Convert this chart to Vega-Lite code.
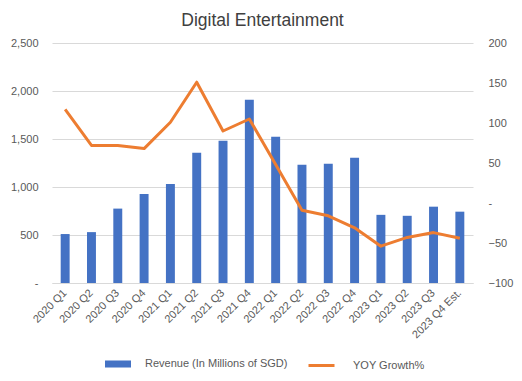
{
  "$schema": "https://vega.github.io/schema/vega-lite/v6.json",
  "autosize": {"type": "none"},
  "width": 421,
  "height": 240,
  "padding": {"left": 52, "top": 43, "right": 49, "bottom": 98},
  "background": "white",
  "title": {"text": "Digital Entertainment", "fontSize": 17.5, "font": "Liberation Sans", "fontWeight": "normal", "color": "#404040", "anchor": "middle", "offset": 8},
  "config": {
    "view": {"stroke": null},
    "font": "Liberation Sans",
    "axis": {"labelFont": "Liberation Sans", "labelFontSize": 11, "labelColor": "#595959", "ticks": false, "domain": false, "title": null}
  },
  "data": {"values": [
    {"q": "2020 Q1", "revenue": 510, "yoy": 117},
    {"q": "2020 Q2", "revenue": 530, "yoy": 72},
    {"q": "2020 Q3", "revenue": 775, "yoy": 72},
    {"q": "2020 Q4", "revenue": 927, "yoy": 68},
    {"q": "2021 Q1", "revenue": 1031, "yoy": 101},
    {"q": "2021 Q2", "revenue": 1357, "yoy": 151},
    {"q": "2021 Q3", "revenue": 1482, "yoy": 90},
    {"q": "2021 Q4", "revenue": 1910, "yoy": 105},
    {"q": "2022 Q1", "revenue": 1523, "yoy": 48},
    {"q": "2022 Q2", "revenue": 1232, "yoy": -9},
    {"q": "2022 Q3", "revenue": 1242, "yoy": -16},
    {"q": "2022 Q4", "revenue": 1305, "yoy": -31},
    {"q": "2023 Q1", "revenue": 710, "yoy": -54},
    {"q": "2023 Q2", "revenue": 700, "yoy": -43},
    {"q": "2023 Q3", "revenue": 795, "yoy": -37},
    {"q": "2023 Q4 Est.", "revenue": 743, "yoy": -44}
  ]},
  "encoding": {
    "x": {"field": "q", "type": "nominal", "sort": null,
      "scale": {"paddingInner": 0.66, "paddingOuter": 0.33},
      "axis": {"labelAngle": -45, "labelAlign": "right", "labelBaseline": "middle", "labelPadding": 8, "domain": true, "domainColor": "#D9D9D9", "grid": false}}
  },
  "layer": [
    {
      "mark": {"type": "bar"},
      "encoding": {
        "y": {"field": "revenue", "type": "quantitative",
          "scale": {"domain": [0, 2500]},
          "axis": {"values": [0, 500, 1000, 1500, 2000, 2500], "labelExpr": "datum.value == 0 ? '-' : format(datum.value, ',')", "grid": true, "gridColor": "#D9D9D9", "labelPadding": 14}},
        "fill": {"datum": "Revenue (In Millions of SGD)", "type": "nominal",
          "scale": {"range": ["#4472C4"]},
          "legend": {"orient": "none", "legendX": 53, "legendY": 308, "title": null, "padding": 0,
            "symbolType": "M-1,-0.27L1,-0.27L1,0.27L-1,0.27Z", "symbolSize": 676, "symbolStrokeWidth": 0,
            "labelFontSize": 11, "labelColor": "#595959", "labelOffset": 14}}
      }
    },
    {
      "mark": {"type": "line", "strokeWidth": 3, "strokeJoin": "round"},
      "encoding": {
        "y": {"field": "yoy", "type": "quantitative",
          "scale": {"domain": [-100, 200]},
          "axis": {"orient": "right", "values": [-100, -50, 0, 50, 100, 150, 200], "labelExpr": "datum.value == 0 ? '-' : format(datum.value, '')", "grid": false, "labelAlign": "left", "labelPadding": 15}},
        "stroke": {"datum": "YOY Growth%", "type": "nominal",
          "scale": {"range": ["#ED7D31"]},
          "legend": {"orient": "none", "legendX": 255, "legendY": 308, "title": null, "padding": 0,
            "symbolType": "stroke", "symbolSize": 676, "symbolStrokeWidth": 3,
            "labelFontSize": 11, "labelColor": "#595959", "labelOffset": 17}}
      }
    }
  ],
  "resolve": {"scale": {"y": "independent"}}
}
